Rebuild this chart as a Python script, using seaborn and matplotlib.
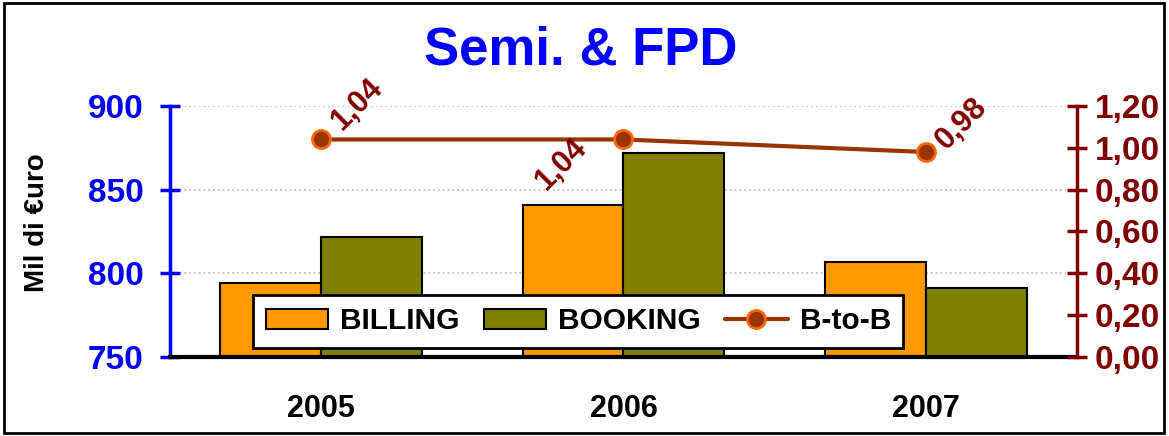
import numpy as np
import pandas as pd
import matplotlib
matplotlib.use("Agg")
import matplotlib.pyplot as plt
import seaborn as sns
from matplotlib.patches import Patch, Rectangle
from matplotlib.lines import Line2D
from matplotlib.ticker import FuncFormatter, MultipleLocator, FixedLocator

# data
years = ["2005", "2006", "2007"]
billing = [794, 841, 807]
booking = [822, 872, 791]
btob = [1.04, 1.04, 0.98]
btob_labels = ["1,04", "1,04", "0,98"]

c_bill = "#FF9900"
c_book = "#808000"
c_line = "#993300"
c_lab = "#800000"

sns.set_style("white")
plt.rcParams["font.family"] = ["Liberation Sans", "DejaVu Sans"]
plt.rcParams["font.weight"] = "bold"
plt.rcParams["text.color"] = "black"
plt.rcParams["xtick.color"] = "black"
plt.rcParams["axes.labelcolor"] = "black"

df = pd.DataFrame({
    "year": years * 2,
    "value": billing + booking,
    "series": ["BILLING"] * 3 + ["BOOKING"] * 3,
})

fig = plt.figure(figsize=(11.69, 4.36), dpi=100)
ax = fig.add_axes([0.1454, 0.1812, 0.7759, 0.5757])

sns.barplot(data=df, x="year", y="value", hue="series", ax=ax,
            palette={"BILLING": c_bill, "BOOKING": c_book}, width=0.667,
            edgecolor="black", linewidth=1.5, saturation=1, legend=False)

ax.set_ylim(750, 900)
ax.set_xlim(-0.5, 2.5)
ax.yaxis.set_major_locator(MultipleLocator(50))
ax.grid(axis="y", color="#C0C0C0", linestyle=":", linewidth=1.3)
ax.set_axisbelow(True)
ax.set_xlabel("")
ax.set_ylabel("")
ax.tick_params(axis="y", colors="blue", labelsize=24, direction="inout",
               length=14, width=2.5, pad=12)
for t in ax.get_yticklabels():
    t.set_fontweight("bold")
ax.tick_params(axis="x", which="major", length=0, labelsize=22, pad=27, labelcolor="black")
ax.xaxis.set_minor_locator(FixedLocator([-0.5, 0.5, 1.5, 2.5]))
ax.tick_params(axis="x", which="minor", length=9, width=2, direction="out", color="black")
for t in ax.get_xticklabels():
    t.set_fontweight("bold")

ax.spines["top"].set_visible(False)
ax.spines["right"].set_visible(False)
ax.spines["left"].set_color("blue")
ax.spines["left"].set_linewidth(2.5)
ax.spines["bottom"].set_linewidth(3)
ax.spines["bottom"].set_color("black")

ax2 = ax.twinx()
pos = np.arange(len(years))
sns.lineplot(x=pos, y=btob, ax=ax2, color=c_line, linewidth=3, marker="o",
             markersize=13, markerfacecolor=c_line, markeredgecolor="#FF6600",
             markeredgewidth=2)
ax2.set_ylim(0, 1.2)
ax2.yaxis.set_major_locator(MultipleLocator(0.2))
ax2.yaxis.set_major_formatter(FuncFormatter(lambda v, p: f"{v:.2f}".replace(".", ",")))
ax2.tick_params(axis="y", colors=c_lab, labelsize=24, direction="inout",
                length=14, width=2.5, pad=6)
for t in ax2.get_yticklabels():
    t.set_fontweight("bold")
for s in ["top", "left", "bottom"]:
    ax2.spines[s].set_visible(False)
ax2.spines["right"].set_color(c_lab)
ax2.spines["right"].set_linewidth(2.5)
ax2.set_xlim(-0.5, 2.5)

offsets = [(26, 25), (-45, -18), (26, 20)]
for x, v, lab, off in zip(pos, btob, btob_labels, offsets):
    ax2.annotate(lab, (x, v), xytext=off, textcoords="offset points",
                 ha="center", va="center", rotation=45, color=c_lab,
                 fontsize=22, fontweight="bold")

handles = [
    Patch(facecolor=c_bill, edgecolor="black", linewidth=1.5),
    Patch(facecolor=c_book, edgecolor="black", linewidth=1.5),
    Line2D([], [], color=c_line, linewidth=3, marker="o", markersize=13,
           markerfacecolor=c_line, markeredgecolor="#FF6600", markeredgewidth=2),
]
leg = ax2.legend(handles, ["BILLING", "BOOKING", "B-to-B"], ncol=3,
                 loc="center", bbox_to_anchor=(0.45, 0.143),
                 frameon=True, fancybox=False, framealpha=1, edgecolor="black",
                 handlelength=2.1, handleheight=0.65, columnspacing=0.8,
                 handletextpad=0.4, borderpad=0.42, prop={"weight": "bold", "size": 21.5})
leg.get_frame().set_linewidth(2)

fig.text(0.497, 0.885, "Semi. & FPD", ha="center", va="center", color="blue",
         fontsize=38, fontweight="bold")
fig.text(0.032, 0.49, "Mil di €uro", ha="center", va="center", rotation=90,
         color="black", fontsize=20, fontweight="bold")
fig.add_artist(Rectangle((0.003, 0.006), 0.993, 0.988, transform=fig.transFigure,
                         fill=False, edgecolor="black", linewidth=2))

fig.savefig("out.png", dpi=100)
